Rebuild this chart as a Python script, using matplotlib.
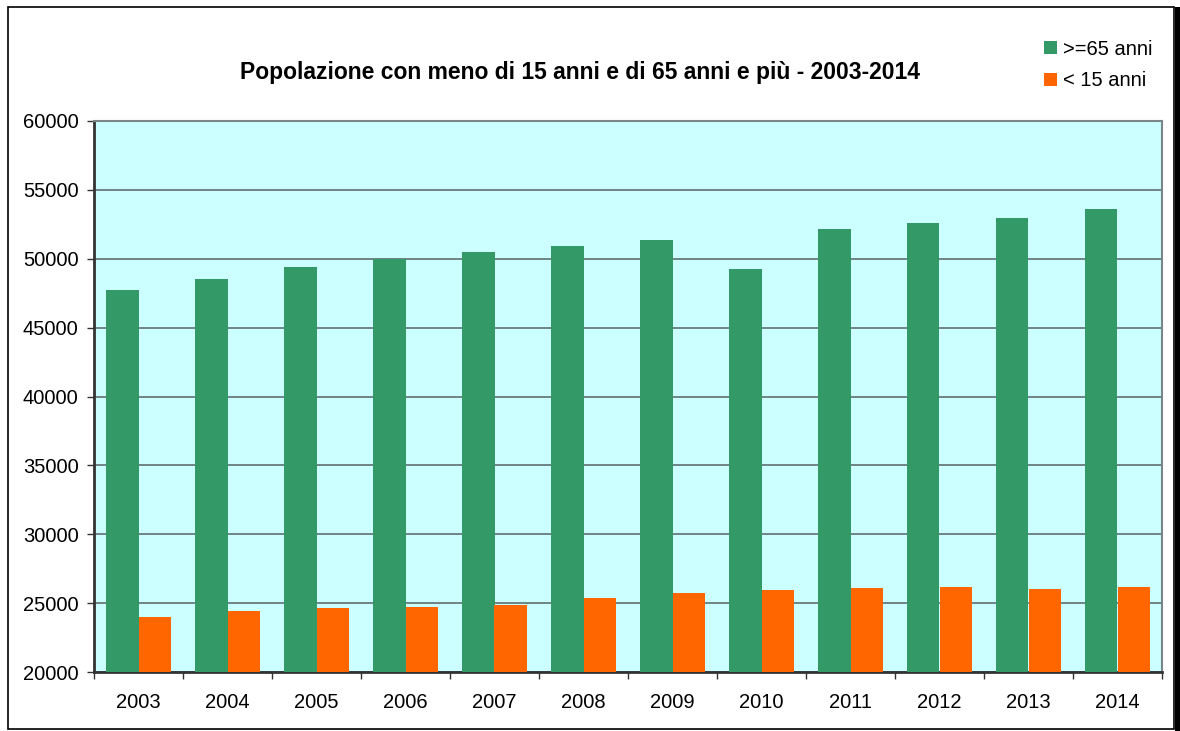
import numpy as np
import matplotlib.pyplot as plt
from matplotlib.patches import Rectangle

plt.rcParams['font.family'] = ['Liberation Sans', 'DejaVu Sans']

anni = ["2003", "2004", "2005", "2006", "2007", "2008",
        "2009", "2010", "2011", "2012", "2013", "2014"]
over65 = [47750, 48550, 49420, 49990, 50500, 50940,
          51380, 49270, 52170, 52610, 52970, 53620]
under15 = [24000, 24440, 24660, 24730, 24880, 25380,
           25750, 25960, 26110, 26180, 26040, 26180]

fig = plt.figure(figsize=(11.8, 7.31), dpi=100)
W, H = 1180, 731

# cornice esterna con ombra a destra
fig.patches.append(Rectangle((8 / W, 2 / H), 1166 / W, 722 / H, transform=fig.transFigure,
                             fill=False, edgecolor="black", linewidth=1.2))
fig.patches.append(Rectangle((1175 / W, 0), 5 / W, 724 / H, transform=fig.transFigure,
                             facecolor="black", edgecolor="none"))

ax = fig.add_axes([94 / W, 1 - 672 / H, 1068 / W, 551 / H])
ax.set_facecolor("#ccffff")

x = np.arange(len(anni))
w = 0.37
ax.bar(x - w / 2, over65, width=w, color="#339966", label=">=65 anni", zorder=3)
ax.bar(x + w / 2, under15, width=w, color="#ff6600", label="< 15 anni", zorder=3)

ax.set_xlim(-0.5, len(anni) - 0.5)
ax.set_ylim(20000, 60000)
ax.set_yticks(np.arange(20000, 60001, 5000))
ax.yaxis.grid(True, color="#5f6f70", linewidth=1.2, zorder=1)
ax.set_axisbelow(True)

ax.set_xticks(x)
ax.set_xticklabels(anni)
ax.set_xticks(np.arange(-0.5, len(anni)), minor=True)
ax.tick_params(axis="x", which="major", length=0, labelsize=14.5, pad=15)
ax.tick_params(axis="x", which="minor", length=5, width=1, color="#333333")
ax.tick_params(axis="y", length=5, width=1, color="#333333", labelsize=14.5, pad=6)

for side in ["left", "bottom"]:
    ax.spines[side].set_color("#333333")
    ax.spines[side].set_linewidth(2)
for side in ["top", "right"]:
    ax.spines[side].set_color("#7a8585")
    ax.spines[side].set_linewidth(1.5)

fig.text(580 / W, 1 - 73 / H, "Popolazione con meno di 15 anni e di 65 anni e più - 2003-2014",
         ha="center", va="center", fontsize=16.5, fontweight="bold")

ax.legend(loc="upper left", bbox_to_anchor=(1036 / W, 1 - 32 / H), bbox_transform=fig.transFigure,
          frameon=False, fontsize=14.5, handlelength=0.62, handleheight=0.62,
          handletextpad=0.3, labelspacing=0.6, borderaxespad=0)

fig.savefig("out.png", dpi=100)
